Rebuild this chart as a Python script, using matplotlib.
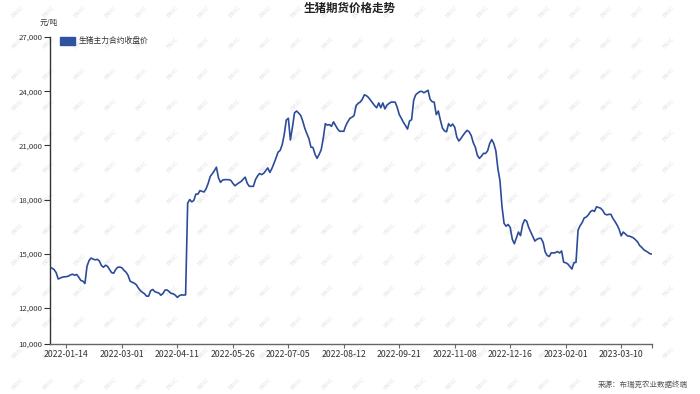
import matplotlib
matplotlib.use("Agg")
import matplotlib.pyplot as plt
from matplotlib.patches import Rectangle

plt.rcParams["font.family"] = ["Noto Sans CJK SC", "DejaVu Sans"]

# daily closing price of the live hog main contract (yuan/ton)
prices = [
    14250, 14200, 14120, 13950, 13600, 13650, 13700, 13720, 13730, 13760,
    13830, 13860, 13810, 13850, 13700, 13520, 13480, 13350, 14300, 14620,
    14760, 14700, 14660, 14690, 14600, 14350, 14250, 14360, 14300, 14130,
    13950, 13920, 14130, 14250, 14260, 14220, 14080, 13980, 13800, 13480,
    13420, 13370, 13280, 13100, 12950, 12860, 12780, 12650, 12650, 12950,
    13020, 12900, 12860, 12820, 12700, 12800, 12990, 12990, 12900, 12800,
    12780, 12700, 12580, 12680, 12720, 12710, 12720, 17800, 18000, 17870,
    17950, 18300, 18300, 18500, 18450, 18420, 18600, 18900, 19280, 19430,
    19600, 19790, 19200, 18950, 19080, 19100, 19100, 19100, 19060, 18900,
    18760, 18850, 18930, 19000, 19120, 19240, 18900, 18730, 18730, 18730,
    19100, 19300, 19440, 19380, 19450, 19600, 19750, 19500, 19720, 20000,
    20300, 20620, 20720, 21030, 21600, 22400, 22500, 21300, 22000, 22800,
    22900, 22790, 22660, 22350, 21950, 21650, 21380, 20900, 20880, 20500,
    20280, 20500, 20760, 21400, 22200, 22120, 22150, 22050, 22300, 22100,
    21900, 21780, 21780, 21780, 22100, 22320, 22500, 22560, 22650, 23200,
    23330, 23400, 23550, 23800, 23750, 23650, 23500, 23350, 23200, 23080,
    23350, 23080, 23350, 23020, 23230, 23320, 23390, 23400, 23390, 23100,
    22700, 22500, 22280, 22100, 21900, 22350, 22420, 23500, 23800, 23900,
    23980, 23990, 23910, 23980, 24050, 23550, 23420, 23390, 22700, 22900,
    22400, 21960, 21800, 21750, 22200, 22060, 22180, 22000, 21450, 21240,
    21380, 21550, 21700, 21830, 21750, 21550, 21150, 20900, 20450, 20280,
    20400, 20560, 20550, 20700, 21100, 21320, 21100, 20700, 19700, 19050,
    17600, 16680, 16520, 16620, 16450, 15800, 15550, 15870, 16200, 16000,
    16600, 16880, 16800, 16450, 16200, 15950, 15700, 15800, 15850, 15850,
    15630, 15100, 14900, 14850, 15050, 15040, 15060, 15120, 15040, 15150,
    14530, 14500, 14430, 14300, 14150, 14500, 14520, 16300, 16550, 16720,
    16980, 17030, 17150, 17320, 17400, 17340, 17600, 17560, 17520, 17400,
    17200, 17150, 17180, 17180, 16950, 16780, 16590, 16350, 15990, 16200,
    16100, 15990, 15970, 15930, 15870, 15770, 15650, 15450, 15350, 15220,
    15150, 15080, 15000, 14980,
]

# dates shown under the x axis (every 27th trading day from the 9th)
tick_labels = [
    "2022-01-14", "2022-03-01", "2022-04-11", "2022-05-26", "2022-07-05",
    "2022-08-12", "2022-09-21", "2022-11-08", "2022-12-16", "2023-02-01",
    "2023-03-10",
]
first_tick = 8
tick_step = 27

y_ticks = [10000, 12000, 15000, 18000, 21000, 24000, 27000]

line_color = "#2c4c9a"


def main():
    fig = plt.figure(figsize=(7, 3.94), dpi=100)

    # light BRIC watermark tiles, on a background axes so they sit under the line
    bg = fig.add_axes([0, 0, 1, 1], zorder=-1)
    bg.set_xlim(0, 700)
    bg.set_ylim(394, 0)
    bg.axis("off")
    for row in range(13):
        for col in range(22):
            bg.text(
                18 + col * 31,
                12 + row * 31,
                "BRIC",
                fontsize=4.5,
                color="#e3e3e3",
                rotation=45,
                ha="center",
                va="center",
                family="DejaVu Sans",
            )

    ax = fig.add_axes([50 / 700, 50 / 394, 602 / 700, 307 / 394])
    ax.patch.set_alpha(0)

    x = list(range(len(prices)))
    ax.plot(x, prices, color=line_color, linewidth=1.2, zorder=3)

    ax.set_xlim(0, len(prices) - 1)
    ax.set_ylim(10000, 27000)

    ax.set_yticks(y_ticks)
    ax.set_yticklabels([f"{v:,}" for v in y_ticks])
    ticks = [first_tick + k * tick_step for k in range(len(tick_labels))]
    ax.set_xticks(ticks + [len(prices) - 1])
    ax.set_xticklabels(tick_labels + [""])

    ax.spines["top"].set_visible(False)
    ax.spines["right"].set_visible(False)
    ax.spines["left"].set_color("#333333")
    ax.spines["bottom"].set_color("#666666")
    ax.spines["left"].set_linewidth(1)
    ax.spines["bottom"].set_linewidth(1)
    ax.tick_params(axis="y", direction="out", length=4, width=0.8,
                   colors="#333333", labelsize=5.6, pad=1.5)
    ax.tick_params(axis="x", direction="out", length=3, width=0.8,
                   colors="#666666", labelcolor="#333333", labelsize=6.3, pad=1)

    # unit label
    fig.text(40 / 700, 1 - 23 / 394, "元/吨", fontsize=5.5, color="#333333",
             va="center", ha="left")

    # legend: blue box plus label
    fig.patches.append(Rectangle((60 / 700, 1 - 45 / 394), 15 / 700, 8 / 394,
                                 transform=fig.transFigure, color="#2f53a0",
                                 zorder=5))
    fig.text(79 / 700, 1 - 41 / 394, "生猪主力合约收盘价", fontsize=5.6,
             color="#333333", va="center", ha="left")

    fig.text(350 / 700, 1 - 8 / 394, "生猪期货价格走势", fontsize=8.3,
             fontweight="bold", color="#222222", ha="center", va="center")
    fig.text(688 / 700, 1 - 385 / 394, "来源：布瑞克农业数据终端", fontsize=5.4,
             color="#555555", ha="right", va="center")

    fig.savefig("out.png", dpi=100)


if __name__ == "__main__":
    main()
